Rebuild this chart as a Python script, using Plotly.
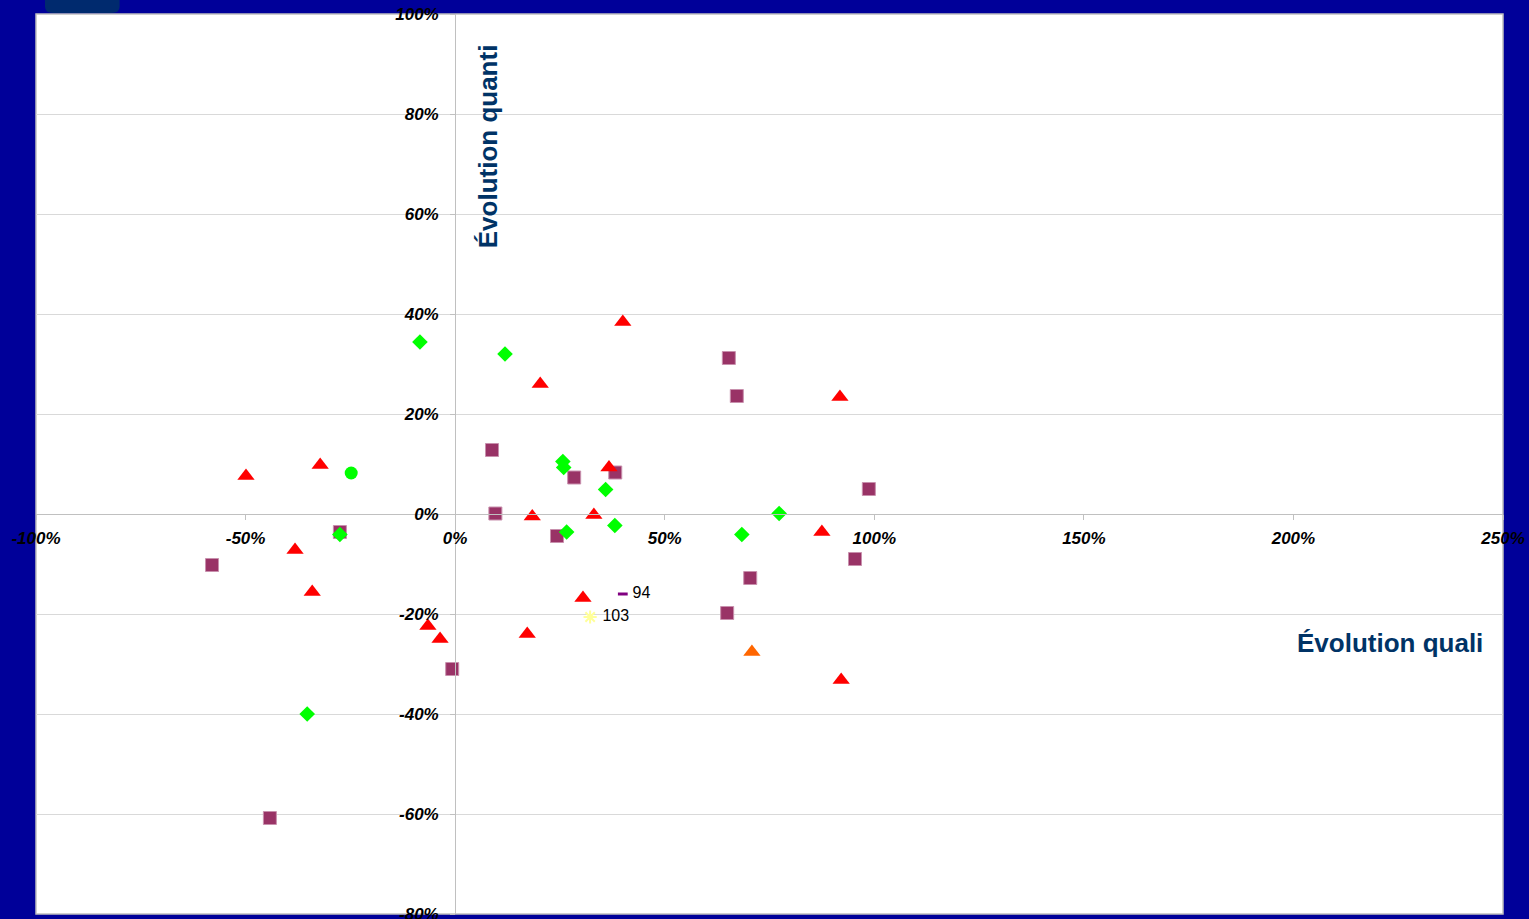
import plotly.graph_objects as go

# ---- data (percent) ----
red_x = [-49.9, -32.2, -38.2, -34.1, -6.5, -3.6, 20.3, 40.0, 18.4, 17.2, 30.5, 33.1, 36.7, 91.8, 87.5, 92.1]
red_y = [7.6, 9.8, -7.2, -15.6, -22.4, -25.0, 26.0, 38.4, -0.5, -24.0, -16.8, -0.2, 9.3, 23.4, -3.6, -33.2]

orange_x = [70.8]
orange_y = [-27.6]

square_x = [-58.0, -27.5, -44.2, -0.7, 8.8, 9.6, 24.3, 28.4, 38.2, 65.3, 67.2, 64.9, 70.4, 95.4, 98.7]
square_y = [-10.2, -3.6, -60.8, -31.0, 12.8, 0.1, -4.4, 7.3, 8.3, 31.2, 23.6, -19.8, -12.8, -9.0, 5.0]

diamond_x = [-8.4, 11.9, -27.5, -35.3, 25.7, 25.9, 26.6, 35.9, 38.1, 68.4, 77.3]
diamond_y = [34.4, 32.0, -4.1, -40.0, 10.5, 9.3, -3.6, 4.9, -2.3, -4.1, 0.1]

circle_x = [-24.8]
circle_y = [8.2]

label94_x = [40.0]
label94_y = [-16.0]
label94_text = ["94"]

label103_x = [32.2]
label103_y = [-20.6]
label103_text = ["103"]

x_tickvals = [-100, -50, 0, 50, 100, 150, 200, 250]
x_ticktext = ["-100%", "-50%", "0%", "50%", "100%", "150%", "200%", "250%"]
y_tickvals = [-80, -60, -40, -20, 0, 20, 40, 60, 80, 100]
y_ticktext = ["-80%", "-60%", "-40%", "-20%", "0%", "20%", "40%", "60%", "80%", "100%"]

x_range = [-100, 250]
y_range = [-80, 100]

title_x = "Évolution quali"
title_y = "Évolution quanti"

# ---- figure ----
fig = go.Figure()

fig.add_trace(go.Scatter(x=square_x, y=square_y, mode="markers",
                         marker=dict(symbol="square", size=13, color="#993366",
                                     line=dict(color="#c890ad", width=1))))
fig.add_trace(go.Scatter(x=red_x, y=red_y, mode="markers",
                         marker=dict(symbol="triangle-up", size=15, color="#ff0000",
                                     line=dict(width=0))))
fig.add_trace(go.Scatter(x=orange_x, y=orange_y, mode="markers",
                         marker=dict(symbol="triangle-up", size=15, color="#ff6600",
                                     line=dict(width=0))))
fig.add_trace(go.Scatter(x=diamond_x, y=diamond_y, mode="markers",
                         marker=dict(symbol="diamond", size=12, color="#00ff00",
                                     line=dict(width=0))))
fig.add_trace(go.Scatter(x=circle_x, y=circle_y, mode="markers",
                         marker=dict(symbol="circle", size=13, color="#00ff00",
                                     line=dict(width=0))))
fig.add_trace(go.Scatter(x=label94_x, y=label94_y, mode="markers+text",
                         text=[" " + t for t in label94_text], textposition="middle right",
                         textfont=dict(family="Liberation Sans, Arial", size=16, color="#000000"),
                         marker=dict(symbol="line-ew", size=7,
                                     line=dict(color="#800080", width=3))))
fig.add_trace(go.Scatter(x=label103_x, y=label103_y, mode="markers+text",
                         text=[" " + t for t in label103_text], textposition="middle right",
                         textfont=dict(family="Liberation Sans, Arial", size=16, color="#000000"),
                         marker=dict(symbol="asterisk", size=11,
                                     line=dict(color="#ffff99", width=2))))

tickfont = dict(family="Liberation Sans, Arial", size=17, color="#000000",
                weight="bold", style="italic")

fig.update_layout(
    width=1529, height=919,
    margin=dict(l=36, r=26, t=14, b=5, autoexpand=False),
    paper_bgcolor="#000099",
    plot_bgcolor="#ffffff",
    showlegend=False,
    hovermode=False,
    xaxis=dict(range=x_range, tickvals=x_tickvals, ticktext=x_ticktext,
               showgrid=False, zeroline=False, automargin=False,
               showline=True, linecolor="#c0c0c0", linewidth=1,
               ticks="outside", ticklen=5, tickcolor="#c0c0c0",
               anchor="free", position=(0 - y_range[0]) / (y_range[1] - y_range[0]),
               tickfont=tickfont, ticklabelstandoff=4, ticklabeloverflow="allow"),
    yaxis=dict(range=y_range, tickvals=y_tickvals, ticktext=y_ticktext,
               showgrid=True, gridcolor="#d9d9d9", gridwidth=1, zeroline=False, automargin=False,
               showline=True, linecolor="#c0c0c0", linewidth=1,
               ticks="outside", ticklen=5, tickcolor="#c0c0c0",
               anchor="free", position=(0 - x_range[0]) / (x_range[1] - x_range[0]),
               tickfont=tickfont, ticklabelstandoff=8, ticklabeloverflow="allow"),
    annotations=[
        dict(x=223.1, y=-25.8, xref="x", yref="y", text=title_x, showarrow=False,
             font=dict(family="Liberation Sans, Arial", size=26, color="#003366", weight="bold")),
        dict(x=7.9, y=73.6, xref="x", yref="y", text=title_y, showarrow=False, textangle=-90,
             font=dict(family="Liberation Sans, Arial", size=26, color="#003366", weight="bold")),
    ],
    shapes=[
        dict(type="rect", xref="paper", yref="paper", x0=0, x1=1, y0=0, y1=1,
             line=dict(color="#c0c0c0", width=1.5), layer="below"),
        dict(type="path", xref="paper", yref="paper", layer="above",
             path="M 0.00613,1.0156 L 0.00613,1.008 Q 0.00613,1.0011 0.0116,1.0011 L 0.0515,1.0011 Q 0.057,1.0011 0.057,1.008 L 0.057,1.0156 Z",
             fillcolor="#002a6e", line=dict(width=0)),
    ],
)

fig.write_html("out.html", config={"displayModeBar": False},
               post_script="document.body.style.margin='0';document.body.style.overflow='hidden';")
